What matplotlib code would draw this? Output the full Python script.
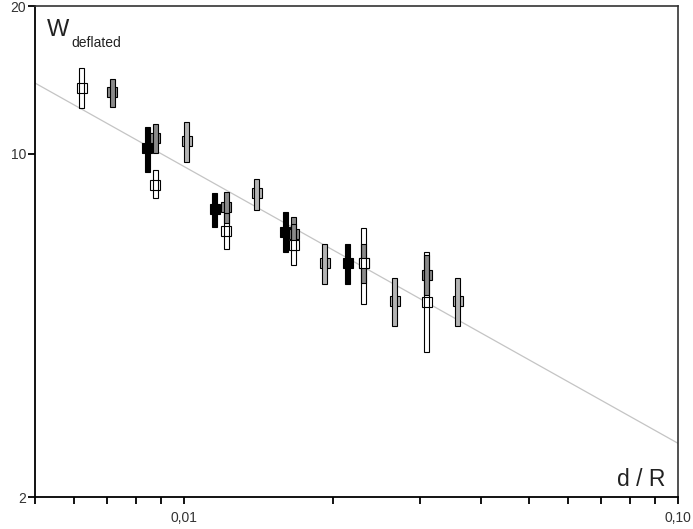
import matplotlib
matplotlib.use("Agg")
import matplotlib.pyplot as plt
from matplotlib.ticker import FixedLocator, NullFormatter, NullLocator
import numpy as np

plt.rcParams['font.family'] = ['Liberation Sans', 'DejaVu Sans']

# ---- data ----
white_x = [0.00621, 0.00876, 0.01220, 0.01668, 0.02311, 0.03099]
white_y = [13.63, 8.66, 6.96, 6.54, 6.01, 5.00]
white_lo = [12.38, 8.12, 6.40, 5.94, 4.94, 3.95]
white_hi = [14.93, 9.27, 7.58, 7.20, 7.07, 6.32]

dark_x = [0.00717, 0.00876, 0.01220, 0.01668, 0.02311, 0.03099]
dark_y = [13.38, 10.75, 7.79, 6.88, 6.00, 5.67]
dark_lo = [12.47, 10.02, 7.22, 6.37, 5.45, 5.16]
dark_hi = [14.18, 11.50, 8.37, 7.43, 6.57, 6.24]

light_x = [0.01013, 0.01404, 0.01927, 0.02670, 0.03583]
light_y = [10.62, 8.31, 6.01, 5.01, 5.01]
light_lo = [9.64, 7.69, 5.43, 4.46, 4.46]
light_hi = [11.63, 8.91, 6.57, 5.58, 5.58]

black_x = [0.00844, 0.01154, 0.01606, 0.02145]
black_y = [10.30, 7.73, 6.95, 6.01]
black_lo = [9.17, 7.10, 6.32, 5.43]
black_hi = [11.36, 8.31, 7.62, 6.57]

fit_x = [0.005, 0.1]
fit_y = [13.94, 2.576]

x_major = [0.01, 0.1]
x_major_labels = ['0,01', '0,10']
x_minor = [0.005, 0.006, 0.007, 0.008, 0.009, 0.02, 0.03, 0.04, 0.05, 0.06, 0.07, 0.08, 0.09]
y_ticks = [2, 10, 20]
y_tick_labels = ['2', '10', '20']

# ---- figure ----
fig = plt.figure(figsize=(6.93, 5.29), dpi=100)
ax = fig.add_axes([35/693, 1 - 497.3/529, (678-35)/693, (497.3-6)/529])
ax.set_xscale('log')
ax.set_yscale('log')
ax.set_xlim(0.005, 0.1)
ax.set_ylim(2, 20)

ax.plot(fit_x, fit_y, color='#c4c4c4', lw=0.9, zorder=1)

half = 2.6 / 494.0  # half bar width in decades

# drawing order: black, light, dark, white; marker first, bar on top
series = [
    (black_x, black_y, black_lo, black_hi, 'black', 'black'),
    (light_x, light_y, light_lo, light_hi, '#b4b4b4', '#b4b4b4'),
    (dark_x, dark_y, dark_lo, dark_hi, '#8a8a8a', '#8a8a8a'),
    (white_x, white_y, white_lo, white_hi, 'white', 'none'),
]

z = 2
for xs, ys, lo, hi, col, barcol in series:
    xs = np.asarray(xs); lo = np.asarray(lo); hi = np.asarray(hi)
    ax.plot(xs, ys, linestyle='none', marker='s', ms=6.6, mfc=col,
            mec='black', mew=0.8, zorder=z)
    z += 1
    left = xs / 10**half
    width = xs * 10**half - left
    ax.bar(left, hi - lo, bottom=lo, width=width, align='edge',
           facecolor=barcol, edgecolor='black', linewidth=0.8, zorder=z)
    z += 1

ax.xaxis.set_major_locator(FixedLocator(x_major))
ax.set_xticklabels(x_major_labels)
ax.xaxis.set_minor_locator(FixedLocator(x_minor))
ax.xaxis.set_minor_formatter(NullFormatter())
ax.yaxis.set_major_locator(FixedLocator(y_ticks))
ax.set_yticklabels(y_tick_labels)
ax.yaxis.set_minor_locator(NullLocator())

ax.tick_params(axis='both', which='both', direction='out', length=4.8, width=1.3,
               labelsize=10, colors='black')
ax.tick_params(axis='x', which='both', pad=5)
ax.tick_params(axis='y', which='both', pad=1.5)
for lab in ax.get_xticklabels() + ax.get_yticklabels():
    lab.set_color('#333333')

for s in ['left', 'bottom']:
    ax.spines[s].set_linewidth(1.3)
    ax.spines[s].set_color('black')
for s in ['top', 'right']:
    ax.spines[s].set_linewidth(1.2)
    ax.spines[s].set_color('#333333')

ax.text(0.018, 0.973, 'W', transform=ax.transAxes, fontsize=17, color='#222222',
        ha='left', va='top')
ax.text(0.057, 0.917, 'deflated', transform=ax.transAxes, fontsize=10, color='#222222',
        ha='left', va='baseline')
ax.text(0.98, 0.022, 'd / R', transform=ax.transAxes, fontsize=16.5, color='#222222',
        ha='right', va='baseline')

fig.savefig('out.png', dpi=100)
